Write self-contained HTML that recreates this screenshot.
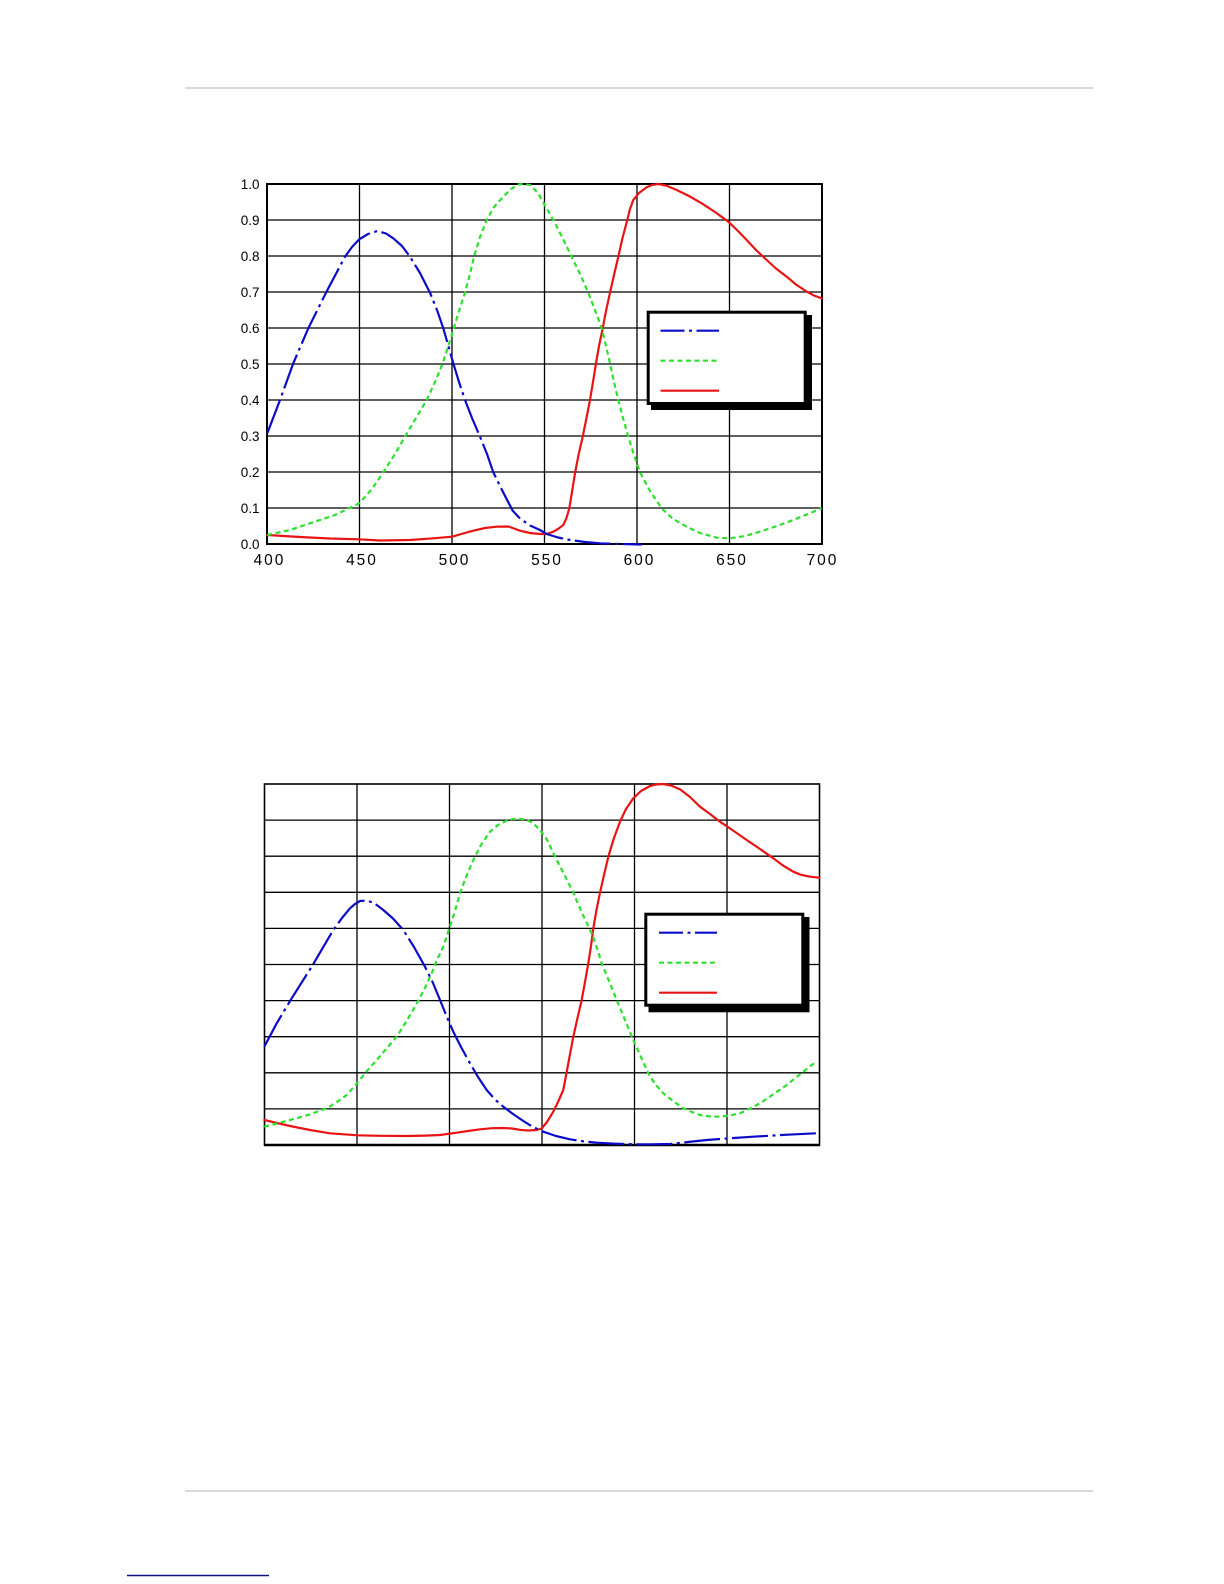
<!DOCTYPE html>
<html>
<head>
<meta charset="utf-8">
<style>
  html, body { margin: 0; padding: 0; background: #ffffff; }
  body { width: 1224px; height: 1584px; overflow: hidden; }
  svg { display: block; }
  text { font-family: "Liberation Sans", Arial, sans-serif; fill: #000; }
</style>
</head>
<body>
<svg width="1224" height="1584" viewBox="0 0 1224 1584" xmlns="http://www.w3.org/2000/svg">
  <rect x="0" y="0" width="1224" height="1584" fill="#ffffff"/>

  <!-- header / footer rules -->
  <line x1="185" y1="88" x2="1093" y2="88" stroke="#c4c4c4" stroke-width="1.3"/>
  <line x1="185" y1="1491" x2="1093" y2="1491" stroke="#c4c4c4" stroke-width="1.3"/>
  <line x1="127" y1="1575.5" x2="269" y2="1575.5" stroke="#101080" stroke-width="1.5"/>

  <!-- ================= CHART 1 ================= -->
  <g stroke="#000" stroke-width="1.3" fill="none">
    <line x1="359.5" y1="184" x2="359.5" y2="544"/>
    <line x1="452" y1="184" x2="452" y2="544"/>
    <line x1="544.5" y1="184" x2="544.5" y2="544"/>
    <line x1="637" y1="184" x2="637" y2="544"/>
    <line x1="729.5" y1="184" x2="729.5" y2="544"/>
    <line x1="267" y1="220" x2="822" y2="220"/>
    <line x1="267" y1="256" x2="822" y2="256"/>
    <line x1="267" y1="292" x2="822" y2="292"/>
    <line x1="267" y1="328" x2="822" y2="328"/>
    <line x1="267" y1="364" x2="822" y2="364"/>
    <line x1="267" y1="400" x2="822" y2="400"/>
    <line x1="267" y1="436" x2="822" y2="436"/>
    <line x1="267" y1="472" x2="822" y2="472"/>
    <line x1="267" y1="508" x2="822" y2="508"/>
  </g>
  <rect x="267" y="184" width="555" height="360" fill="none" stroke="#000" stroke-width="2"/>

  <!-- y labels -->
  <g font-size="13.5" text-anchor="end">
    <text x="259.5" y="188.8">1.0</text>
    <text x="259.5" y="224.8">0.9</text>
    <text x="259.5" y="260.8">0.8</text>
    <text x="259.5" y="296.8">0.7</text>
    <text x="259.5" y="332.8">0.6</text>
    <text x="259.5" y="368.8">0.5</text>
    <text x="259.5" y="404.8">0.4</text>
    <text x="259.5" y="440.8">0.3</text>
    <text x="259.5" y="476.8">0.2</text>
    <text x="259.5" y="512.8">0.1</text>
    <text x="259.5" y="548.8">0.0</text>
  </g>
  <!-- x labels -->
  <g font-size="15.5" text-anchor="middle" letter-spacing="2">
    <text x="269.5" y="565">400</text>
    <text x="362" y="565">450</text>
    <text x="454.5" y="565">500</text>
    <text x="547" y="565">550</text>
    <text x="639.5" y="565">600</text>
    <text x="732" y="565">650</text>
    <text x="822.5" y="565">700</text>
  </g>

  <!-- curves chart 1 -->
  <polyline fill="none" stroke="#e81414" stroke-width="2.2" stroke-linejoin="round" stroke-linecap="round"
    points="267.3,535 300,537 330,538.5 359.3,539.3 380,540.5 410,540 433.3,538.3 452.3,536.7 463,533.5 473.3,530.7 485,528 496.7,526.7 508.3,526.5 514,528.5 520,530.7 530,533 540,534 546.7,534 553.3,531.7 558,529 563.3,525 566.5,518 569.3,508.3 572,492 575,473.3 578.5,455 582.7,436.7 586.5,418 590,400 593,382 596,363.3 599,346 602.7,328.3 606,311 610,292.7 614,275 618.3,256.7 622.5,238 627.3,220 630,209 633.3,200 639,193 646.7,187.3 652,185 658.3,184 666,185.5 676.7,190 689,196 701.7,203.3 715,212 728.3,221.7 737,230 746.7,240 756,250 766.7,260 776,268.5 786.7,276.7 796,284.5 806.7,291.7 814,295.5 821.7,298.3"/>
  <polyline fill="none" stroke="#2ee02e" stroke-width="2.2" stroke-dasharray="5 3.5" stroke-linejoin="round"
    points="267.3,535 290,530 310,523.3 335,515 359.3,503.3 372,489 383.3,472.3 395,454 405,436.7 416,418 426.7,400 435,382 442.7,363.3 448,347 453.3,330 459,311 465,292.7 470,274 474,256.7 480,237 486.7,220 494,207 503.3,196.7 511,189 518.3,184.5 524,184 530,185 538,193 545.7,206.7 553.3,220 562,237 571.7,256.7 580,274 588.3,292.7 595,310 601.7,328.3 606,346 610,363.3 614,382 618.3,400 623,418 628.3,436.7 634,455 640,472.3 650,491 661.7,508.3 673,519 686.7,526.7 700,533 716.7,537.7 730,538.3 745,536 760,531.7 777,526 793.3,520 808,514 821.7,508.3"/>
  <polyline fill="none" stroke="#0c0cc8" stroke-width="2.2" stroke-dasharray="36 4.5 3 4.5" stroke-linejoin="round"
    points="267.3,433.3 280,400 293.3,363.3 308.3,328.3 326,292.7 345,256.7 352,247 359.3,239.3 368,234 377.3,231 386,233.5 393.3,238.3 402,246 410,256.7 420,273 430,292.7 437,310 443.3,328.3 453.3,363.3 459,382 465,400 472,418 480,436.7 487,454 493.3,472.3 503,492 512.7,510.7 520,518.5 530,525.5 540,530 546.7,534 558,537.5 570,540 585,542 600,543.3 620,544 641.7,544.5"/>

  <!-- legend chart 1 -->
  <rect x="651" y="315" width="161" height="95" fill="#000"/>
  <rect x="648.2" y="312.2" width="157" height="91.3" fill="#fff" stroke="#000" stroke-width="3"/>
  <line x1="660.5" y1="330.7" x2="719" y2="330.7" stroke="#0c0cc8" stroke-width="2.2" stroke-dasharray="36 4.5 3 4.5" stroke-dashoffset="12"/>
  <line x1="660.5" y1="360.7" x2="719" y2="360.7" stroke="#2ee02e" stroke-width="2.2" stroke-dasharray="5 3.5"/>
  <line x1="660.5" y1="390.7" x2="719" y2="390.7" stroke="#e81414" stroke-width="2.2"/>

  <!-- ================= CHART 2 ================= -->
  <g stroke="#000" stroke-width="1.3" fill="none">
    <line x1="357" y1="784" x2="357" y2="1145"/>
    <line x1="449.5" y1="784" x2="449.5" y2="1145"/>
    <line x1="542" y1="784" x2="542" y2="1145"/>
    <line x1="634.5" y1="784" x2="634.5" y2="1145"/>
    <line x1="727" y1="784" x2="727" y2="1145"/>
    <line x1="264.5" y1="820.1" x2="819.5" y2="820.1"/>
    <line x1="264.5" y1="856.2" x2="819.5" y2="856.2"/>
    <line x1="264.5" y1="892.3" x2="819.5" y2="892.3"/>
    <line x1="264.5" y1="928.4" x2="819.5" y2="928.4"/>
    <line x1="264.5" y1="964.5" x2="819.5" y2="964.5"/>
    <line x1="264.5" y1="1000.6" x2="819.5" y2="1000.6"/>
    <line x1="264.5" y1="1036.7" x2="819.5" y2="1036.7"/>
    <line x1="264.5" y1="1072.8" x2="819.5" y2="1072.8"/>
    <line x1="264.5" y1="1108.9" x2="819.5" y2="1108.9"/>
  </g>
  <rect x="264.5" y="784" width="555" height="361" fill="none" stroke="#000" stroke-width="1.6"/>
  <line x1="264" y1="1145" x2="820" y2="1145" stroke="#000" stroke-width="2.4"/>

  <!-- curves chart 2 -->
  <polyline fill="none" stroke="#e81414" stroke-width="2.2" stroke-linejoin="round" stroke-linecap="round"
    points="264.3,1120 277,1123 290,1126 310,1130 330,1133.3 357.7,1135.3 380,1135.8 406.7,1136 425,1135.6 440,1135 456.7,1132.7 468,1131 480,1129.3 492,1128.2 503.3,1128 512,1128.5 520,1129.8 528,1130.5 536.7,1130 541.7,1128.5 547,1122 553.3,1111.7 558,1102 563.3,1090 568,1065 573.3,1036.7 577.5,1018 581.7,1000 585,982 588.3,963.3 591,946 593.3,928.3 596.5,910 600,892.7 604,875 608.3,856.7 614,838 620,821.7 626,809 633.3,798.3 641,791 650,786 656,784.5 663.3,784 671,785.5 680,789.3 690,797 700,806.7 710,814 720,821.7 733,830.5 746.7,840 760,849 773.3,858.3 783,865.5 793.3,871.7 801,874.8 810,876.7 819.3,877.7"/>
  <polyline fill="none" stroke="#2ee02e" stroke-width="2.2" stroke-dasharray="5 3.5" stroke-linejoin="round"
    points="264.3,1126.7 277,1123.5 290,1120 308,1115 326.7,1108.3 337,1102 346.7,1095 352,1089 358.3,1081.7 367,1071 376.7,1060 387,1048 396.7,1036.7 406,1022 415,1006.7 424,990 431.7,973.3 437,960 443.3,946.7 449.3,928.3 455,911 460,893.3 466,877 473.3,860 481,845 490,831.7 498,825 506.7,820.7 513,819 520,819 526,819.5 533.3,823.3 540,830 546.7,839 555,856.7 564,874 573.3,892.7 582,913 591.7,933.3 597,948 601.7,963.3 609,981 616.7,1000 625,1020 633.3,1040 641,1057 648.3,1073.3 655,1084 663.3,1093.3 673,1101 683.3,1108.3 692,1112 700,1115 710,1116.5 720,1116.7 730,1115.5 740,1113.3 750,1108.5 760,1103.3 773,1094.5 786.7,1085 801,1073.5 816,1061.7"/>
  <polyline fill="none" stroke="#0c0cc8" stroke-width="2.2" stroke-dasharray="36 4.5 3 4.5" stroke-linejoin="round"
    points="264.3,1046.7 276.7,1023.3 291.7,998.3 311.7,966.7 333.3,930 342,918 350,908.3 355,904 360,901 366.7,900.5 374,903 383.3,910 393,918.5 403.3,930 414,947 425,966.7 433,983 440,1000 446.5,1016 453.3,1031.7 461,1047 470,1063.3 478,1077 486.7,1090 495,1099.5 503.3,1106.7 513,1114 523.3,1121 533,1127 543.3,1131.7 556,1136 570,1139.3 583,1141.3 596.7,1142.7 615,1143.7 633.3,1144.3 650,1144.3 670,1144 688,1142 706.7,1140 730,1138.3 753.3,1136.7 785,1134.8 816,1133.3"/>

  <!-- legend chart 2 -->
  <rect x="648.5" y="917" width="161" height="95.3" fill="#000"/>
  <rect x="645.8" y="914.2" width="157" height="91" fill="#fff" stroke="#000" stroke-width="3"/>
  <line x1="659" y1="932.7" x2="717" y2="932.7" stroke="#0c0cc8" stroke-width="2.2" stroke-dasharray="36 4.5 3 4.5" stroke-dashoffset="12"/>
  <line x1="659" y1="962.7" x2="717" y2="962.7" stroke="#2ee02e" stroke-width="2.2" stroke-dasharray="5 3.5"/>
  <line x1="659" y1="992.7" x2="717" y2="992.7" stroke="#e81414" stroke-width="2.2"/>
</svg>
</body>
</html>
